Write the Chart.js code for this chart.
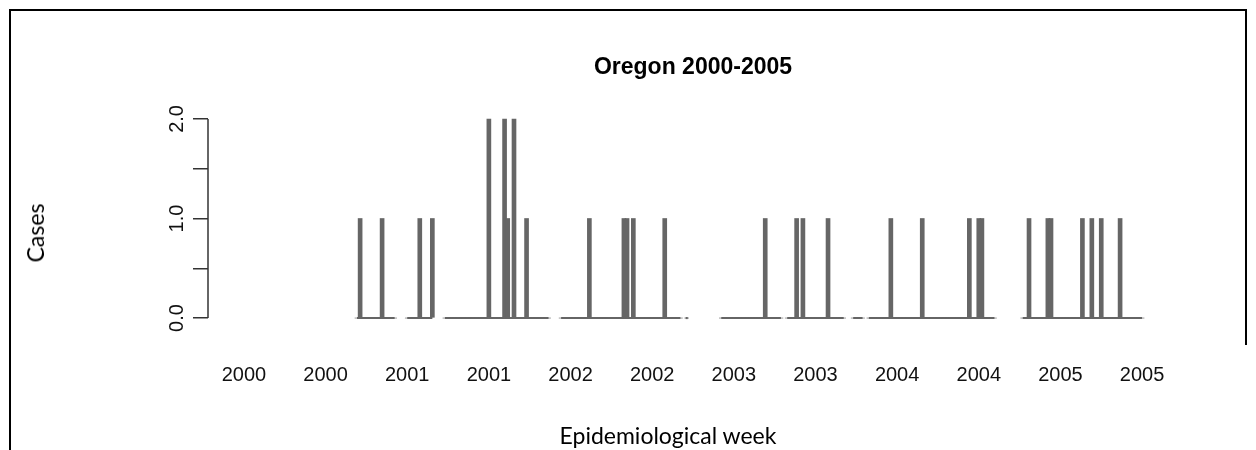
<!DOCTYPE html>
<html>
<head>
<meta charset="utf-8">
<script src="https://cdn.jsdelivr.net/npm/chart.js@4.4.0/dist/chart.umd.min.js"></script>
<style>
  html, body { margin: 0; padding: 0; background: #fff; }
  #wrap { position: relative; width: 1256px; height: 450px; overflow: hidden; background: #fff; }
  canvas { position: absolute; left: 0; top: 0; }
  .bl { position: absolute; background: #000; }
  #ylab { position: absolute; left: 35px; top: 233px; transform: translate(-50%, -50%) rotate(-90deg);
          font-family: "Lato", "Open Sans", sans-serif; font-size: 23px; color: #000; white-space: nowrap; }
  #xlab { position: absolute; left: 668px; top: 435px; transform: translate(-50%, -50%);
          font-family: "Lato", "Open Sans", sans-serif; font-size: 23px; color: #000; white-space: nowrap; }
</style>
</head>
<body>
<div id="wrap">
  <canvas id="c" width="1256" height="450"></canvas>
  <div class="bl" style="left:9px;top:9px;width:2px;height:441px;"></div>
  <div class="bl" style="left:9px;top:9px;width:1238px;height:2px;"></div>
  <div class="bl" style="left:1245px;top:9px;width:2px;height:336px;"></div>
  <div id="ylab">Cases</div>
  <div id="xlab">Epidemiological week</div>
</div>
<script>
// ---- data ----
const chartTitle = 'Oregon 2000-2005';
const xTickWeeks = [0, 26, 52, 78, 104, 130, 156, 182, 208, 234, 260, 286];
const xTickLabels = ['2000', '2000', '2001', '2001', '2002', '2002', '2003', '2003', '2004', '2004', '2005', '2005'];
const yTickValues = [0, 0.5, 1, 1.5, 2];
const yLabelValues = [0, 1, 2];
const yLabelTexts = ['0.0', '1.0', '2.0'];
const firstWeek = 36;
const N = null;
// weekly case counts (null = no report), starting at week index 36
const cases = [
  0, 1, 0, 0, 0, 0, 0, 0, 1, 0,      // 36-45
  0, 0, 0, N, N, N, 0, 0, 0, 0,      // 46-55
  1, 0, 0, 0, 1, N, N, N, 0, 0,      // 56-65
  0, 0, 0, 0, 0, 0, 0, 0, 0, 0,      // 66-75
  0, 0, 2, 0, 0, 0, 0, 2, 1, 0,      // 76-85
  2, 0, 0, 0, 1, 0, 0, 0, 0, 0,      // 86-95
  0, 0, N, N, N, 0, 0, 0, 0, 0,      // 96-105
  0, 0, 0, 0, 1, 0, 0, 0, 0, 0,      // 106-115
  0, 0, 0, 0, 0, 1, 1, 0, 1, 0,      // 116-125
  0, 0, 0, 0, 0, 0, 0, 0, 1, 0,      // 126-135
  0, 0, 0, 0, N, 0, N, N, N, N,      // 136-145
  N, N, N, N, N, N, 0, 0, 0, 0,      // 146-155
  0, 0, 0, 0, 0, 0, 0, 0, 0, 0,      // 156-165
  1, 0, 0, 0, 0, 0, N, 0, 0, 0,      // 166-175
  1, 0, 1, 0, 0, 0, 0, 0, 0, 0,      // 176-185
  1, 0, 0, 0, 0, 0, N, N, 0, 0,      // 186-195
  0, 0, N, 0, 0, 0, 0, 0, 0, 0,      // 196-205
  1, 0, 0, 0, 0, 0, 0, 0, 0, 0,      // 206-215
  1, 0, 0, 0, 0, 0, 0, 0, 0, 0,      // 216-225
  0, 0, 0, 0, 0, 1, 0, 0, 1, 1,      // 226-235
  0, 0, 0, 0, N, N, N, N, N, N,      // 236-245
  N, N, 0, 0, 1, 0, 0, 0, 0, 0,      // 246-255
  1, 1, 0, 0, 0, 0, 0, 0, 0, 0,      // 256-265
  0, 1, 0, 0, 1, 0, 0, 1, 0, 0,      // 266-275
  0, 0, 0, 1, 0, 0, 0, 0, 0, 0,      // 276-285
  0                                  // 286
];
const weeks = cases.map((_, i) => firstWeek + i);

// ---- datasets built from the arrays ----
const baselineData = weeks.map((w, i) => ({ x: w, y: cases[i] === null ? null : 0 }));
const barData = weeks.map((w, i) => ({ x: w, y: cases[i] }));
const GRAY = '#666666';

function isolated(i) {
  if (cases[i] === null) return false;
  const prev = i > 0 ? cases[i - 1] : null;
  const next = i < cases.length - 1 ? cases[i + 1] : null;
  return prev === null && next === null;
}

const drawExtras = {
  id: 'drawExtras',
  afterDraw(chart) {
    const ctx = chart.ctx;
    const ys = chart.scales.y;
    const area = chart.chartArea;
    ctx.save();
    ctx.strokeStyle = '#333';
    ctx.lineWidth = 1.5;
    ctx.beginPath();
    ctx.moveTo(area.left, ys.getPixelForValue(yTickValues[0]));
    ctx.lineTo(area.left, ys.getPixelForValue(yTickValues[yTickValues.length - 1]));
    ctx.stroke();
    ctx.fillStyle = '#111';
    ctx.font = '20px "Liberation Sans", Arial, sans-serif';
    ctx.textAlign = 'center';
    ctx.textBaseline = 'middle';
    yLabelValues.forEach((v, i) => {
      ctx.save();
      ctx.translate(177, ys.getPixelForValue(v));
      ctx.rotate(-Math.PI / 2);
      ctx.fillText(yLabelTexts[i], 0, 0);
      ctx.restore();
    });
    ctx.fillStyle = '#000';
    ctx.font = 'bold 23px "Liberation Sans", Arial, sans-serif';
    ctx.fillText(chartTitle, (area.left + area.right) / 2, 68);
    ctx.restore();
  }
};

new Chart(document.getElementById('c'), {
  type: 'bar',
  data: {
    datasets: [
      {
        type: 'bar',
        data: barData,
        backgroundColor: GRAY,
        borderWidth: 0,
        barThickness: 4,
        order: 1
      },
      {
        type: 'line',
        data: baselineData,
        borderColor: GRAY,
        borderWidth: 2,
        spanGaps: false,
        tension: 0,
        fill: false,
        pointStyle: 'rect',
        pointRadius: (c) => isolated(c.dataIndex) ? 1.5 : 0,
        pointBackgroundColor: GRAY,
        pointBorderWidth: 0,
        order: 2
      }
    ]
  },
  options: {
    responsive: false,
    animation: false,
    devicePixelRatio: 1,
    layout: { padding: { left: 0, right: 78, top: 111, bottom: 64 } },
    plugins: { legend: { display: false }, tooltip: { enabled: false }, title: { display: false } },
    scales: {
      x: {
        type: 'linear',
        offset: false,
        min: -11.44,
        max: 297.44,
        afterBuildTicks: (s) => { s.ticks = xTickWeeks.map(v => ({ value: v })); },
        afterFit: (s) => { s.height = 60; },
        ticks: {
          autoSkip: false,
          maxRotation: 0,
          minRotation: 0,
          padding: 37,
          color: '#111',
          font: { family: '"Liberation Sans", Arial, sans-serif', size: 20 },
          callback: (v, i) => xTickLabels[i]
        },
        grid: { display: false, drawTicks: false, offset: false },
        border: { display: false }
      },
      y: {
        min: -0.08,
        max: 2.08,
        afterBuildTicks: (s) => { s.ticks = yTickValues.map(v => ({ value: v })); },
        afterFit: (s) => { s.width = 208; },
        ticks: { display: false },
        grid: { display: true, drawOnChartArea: false, drawTicks: true, tickLength: 15, color: '#333', lineWidth: 1.5 },
        border: { display: false }
      }
    }
  },
  plugins: [drawExtras]
});
</script>
</body>
</html>
